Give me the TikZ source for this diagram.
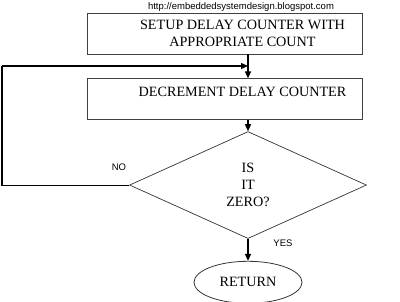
\documentclass[tikz,border=0pt]{standalone}
\usepackage{fontspec}
\setmainfont{Liberation Serif}
\newfontfamily\arialfont{Liberation Sans}
\usepackage{tikz}
\usetikzlibrary{shapes.geometric, arrows.meta, positioning}

\begin{document}
\begin{tikzpicture}[
    x=1pt, y=-1pt,
    node distance=24pt,
    every node/.style={font=\fontsize{14.2}{17}\selectfont},
    stepbox/.style={rectangle, draw=black!75, line width=0.8pt,
                    minimum width=275pt, minimum height=41pt, inner sep=0pt},
    boxtext/.style={align=center, inner sep=0pt},
    decision/.style={diamond, draw=black!80, line width=0.7pt,
                     minimum width=237pt, minimum height=107pt,
                     inner sep=0pt, align=center},
    terminal/.style={ellipse, draw=black!80, line width=0.8pt,
                     minimum width=108pt, minimum height=42pt, inner sep=0pt},
    arrow/.style={-{Triangle[length=7pt, width=6pt]}, line width=1.4pt},
    loopline/.style={line width=1pt},
    tag/.style={font=\arialfont\fontsize{9.5}{11}\selectfont, inner sep=0pt}
]
\useasboundingbox (0,0) rectangle (400,302);

% Process boxes
\node[stepbox, label={[boxtext, xshift=17.5pt]center:SETUP DELAY COUNTER WITH\\APPROPRIATE COUNT}]
    (setup) at (225,33.5) {};
\node[stepbox, below=of setup,
      label={[boxtext, xshift=17.5pt, yshift=7.5pt]center:DECREMENT DELAY COUNTER}]
    (decr) {};

% Decision and end
\node[decision, below=11pt of decr, xshift=23pt] (zero) {IS\\IT\\ZERO?};
\node[terminal, below=22pt of zero] (ret) {RETURN};

% Source note
\node[tag] (url) at (241,7) {http://embeddedsystemdesign.blogspot.com};

% Arrows
\draw[arrow] (setup.south -| zero.north) -- (decr.north -| zero.north);
\draw[arrow] (decr.south -| zero.north) -- (zero.north);
\draw[arrow] (zero.south) -- (ret.north);

% Loop back
\coordinate (farleft) at (2,66);
\draw[loopline] (zero.west) -| (farleft);
\draw[arrow, line width=1.2pt] (farleft) -- (farleft -| zero.north);

% Labels
\node[tag] (no) at (119,167) {NO};
\node[tag] (yes) at (283,243) {YES};

\end{tikzpicture}
\end{document}
